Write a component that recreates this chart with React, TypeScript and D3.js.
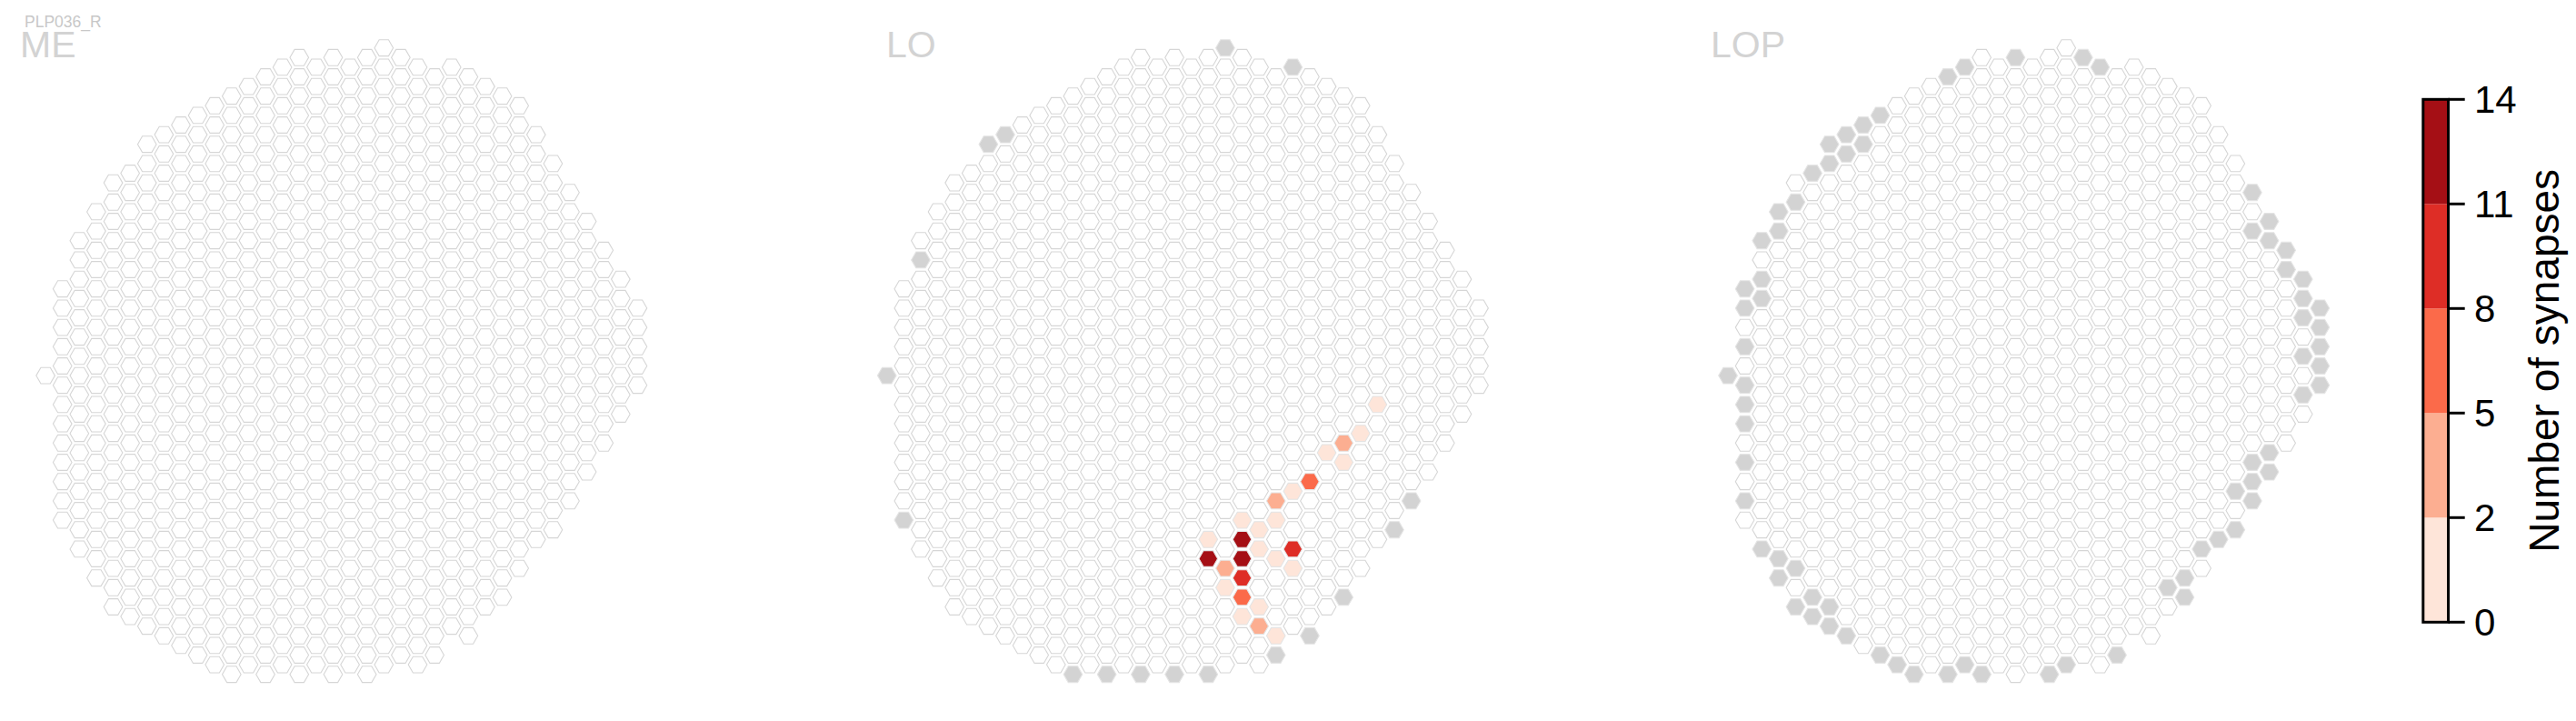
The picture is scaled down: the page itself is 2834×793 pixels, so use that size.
import * as d3 from "d3";
import React, { useEffect, useRef } from "react";

// hex grid in "doubled row" coordinates: for every column (0..35) the first and last row
const columnTop = [34, 25, 20, 17, 14, 13, 10, 9, 8, 7, 6, 5, 4, 3, 2, 1, 2, 1, 2, 1, 0, 1, 2, 3, 2, 3, 4, 5, 6, 9, 12, 15, 18, 21, 24, 27];
const columnBottom = [34, 49, 52, 55, 58, 59, 60, 61, 62, 63, 64, 65, 64, 65, 64, 65, 64, 65, 64, 65, 64, 63, 64, 63, 60, 61, 58, 57, 54, 51, 50, 47, 44, 41, 38, 35];

const neuronName = "PLP036_R";
const regions = ["ME", "LO", "LOP"];

// synapse counts per column: [column, row, synapses]
const meSynapses: [number, number, number][] = [];
const loSynapses: [number, number, number][] = [
  [29, 37, 1], [28, 40, 1], [27, 41, 3], [26, 42, 1], [27, 43, 1],
  [25, 45, 6], [24, 46, 1], [23, 47, 3], [21, 49, 1], [23, 49, 1],
  [22, 50, 1], [19, 51, 1], [21, 51, 13], [22, 52, 1], [24, 52, 9],
  [23, 53, 1], [19, 53, 12], [21, 53, 12], [20, 54, 4], [24, 54, 1],
  [21, 55, 10], [20, 56, 1], [21, 57, 7], [22, 58, 1], [21, 59, 1],
  [22, 60, 3], [23, 61, 1],
];
const lopSynapses: [number, number, number][] = [];

// columns drawn in grey: [column, row]
const meGrey: [number, number][] = [];
const loGrey: [number, number][] = [
  [20, 0], [24, 2], [7, 9], [6, 10], [2, 22], [0, 34], [1, 49], [31, 47], [30, 50],
  [27, 57], [25, 61], [23, 63], [11, 65], [13, 65], [15, 65], [17, 65], [19, 65],
];
const lopGrey: [number, number][] = [
  [17, 1], [21, 1], [22, 2], [14, 2], [13, 3], [9, 7], [8, 8], [7, 9], [6, 10], [8, 10],
  [7, 11], [6, 12], [5, 13], [4, 16], [3, 17], [3, 19], [2, 20], [2, 24], [1, 25], [2, 26],
  [1, 27], [1, 31], [0, 34], [1, 35], [1, 37], [1, 39], [1, 43], [1, 47], [2, 52], [3, 53],
  [4, 54], [3, 55], [5, 57], [4, 58], [6, 58], [5, 59], [6, 60], [7, 61], [9, 63], [10, 64],
  [11, 65], [13, 65], [14, 64], [15, 65], [19, 65], [20, 64], [23, 63],
  [31, 15], [32, 18], [31, 19], [32, 20], [33, 21], [33, 23], [34, 24], [34, 26], [35, 27],
  [34, 28], [35, 29], [35, 31], [34, 32], [35, 33], [35, 35], [34, 36], [32, 42], [31, 43],
  [32, 44], [31, 45], [30, 46], [31, 47], [30, 50], [29, 51], [28, 52], [27, 55], [26, 56], [27, 57],
];

const panelSynapses = [meSynapses, loSynapses, lopSynapses];
const panelGrey = [meGrey, loGrey, lopGrey];

// colour bins
const binEdges = [0, 2, 5, 8, 11, 14];
const binColors = ["#fee5d9", "#fcae91", "#fb6a4a", "#de2d26", "#a50f15"];

const WIDTH = 2834;
const HEIGHT = 793;
const FONT = "'Liberation Sans', Arial, Helvetica, sans-serif";

export default function App() {
  const svgRef = useRef<SVGSVGElement | null>(null);

  useEffect(() => {
    if (!svgRef.current) return;
    const svg = d3.select(svgRef.current);
    svg.selectAll("*").remove();

    const panelLeft = [50.1, 975.7, 1901.0];
    const labelX = [22, 975, 1882];
    const colCount = columnTop.length;

    const y = d3.scaleLinear().domain([0, 65]).range([52.7, 741.7]);

    // flat-topped hexagon
    const R = 10.3;
    const hexPath =
      d3.range(6).map((i) => {
        const a = (Math.PI / 3) * i;
        return `${i === 0 ? "M" : "L"}${(R * Math.cos(a)).toFixed(2)},${(R * Math.sin(a)).toFixed(2)}`;
      }).join("") + "Z";

    const color = d3.scaleThreshold<number, string>().domain(binEdges.slice(1, -1)).range(binColors);

    // all cells of the grid
    const cells: [number, number][] = [];
    for (let c = 0; c < colCount; c++) {
      for (let r = columnTop[c]; r <= columnBottom[c]; r += 2) cells.push([c, r]);
    }

    regions.forEach((name, p) => {
      const x = d3.scaleLinear().domain([0, colCount - 1]).range([panelLeft[p], panelLeft[p] + (colCount - 1) * 18.61]);
      const g = svg.append("g");

      const fillOf = new Map<string, string>();
      panelGrey[p].forEach(([c, r]) => fillOf.set(`${c},${r}`, "#d3d3d3"));
      panelSynapses[p].forEach(([c, r, v]) => fillOf.set(`${c},${r}`, color(v)));

      g.selectAll("path.hex")
        .data(cells)
        .enter()
        .append("path")
        .attr("class", "hex")
        .attr("d", hexPath)
        .attr("transform", (d) => `translate(${x(d[0])},${y(d[1])})`)
        .attr("fill", (d) => fillOf.get(`${d[0]},${d[1]}`) ?? "#ffffff")
        .attr("stroke", (d) => (fillOf.has(`${d[0]},${d[1]}`) ? "#e4e4e4" : "#d6d6d6"))
        .attr("stroke-width", 1.1);

      svg
        .append("text")
        .attr("x", labelX[p])
        .attr("y", 62.5)
        .attr("font-family", FONT)
        .attr("font-size", 41)
        .attr("fill", "#d3d3d3")
        .text(name);
    });

    svg
      .append("text")
      .attr("x", 27)
      .attr("y", 29.5)
      .attr("font-family", FONT)
      .attr("font-size", 17.5)
      .attr("fill", "#c8c8c8")
      .text(neuronName);

    // colour bar
    const cb = svg.append("g");
    const barX = 2665.8;
    const barW = 27.7;
    const cbY = d3.scaleLinear().domain([0, binColors.length]).range([684.3, 109.3]);

    cb.selectAll("rect.bin")
      .data(binColors)
      .enter()
      .append("rect")
      .attr("class", "bin")
      .attr("x", barX)
      .attr("y", (_, i) => cbY(i + 1))
      .attr("width", barW)
      .attr("height", (_, i) => cbY(i) - cbY(i + 1))
      .attr("fill", (d) => d);

    cb.append("rect")
      .attr("x", barX)
      .attr("y", cbY(binColors.length))
      .attr("width", barW)
      .attr("height", cbY(0) - cbY(binColors.length))
      .attr("fill", "none")
      .attr("stroke", "#000")
      .attr("stroke-width", 3);

    const ticks = cb.selectAll("g.tick").data(binEdges).enter().append("g").attr("class", "tick");
    ticks
      .append("line")
      .attr("x1", barX + barW)
      .attr("x2", 2711.7)
      .attr("y1", (_, i) => cbY(i))
      .attr("y2", (_, i) => cbY(i))
      .attr("stroke", "#000")
      .attr("stroke-width", 3);
    ticks
      .append("text")
      .attr("x", 2722)
      .attr("y", (_, i) => cbY(i) + 15)
      .attr("font-family", FONT)
      .attr("font-size", 42)
      .attr("fill", "#000")
      .text((d) => d);

    cb.append("text")
      .attr("transform", `translate(2815,${(cbY(0) + cbY(binColors.length)) / 2}) rotate(-90)`)
      .attr("text-anchor", "middle")
      .attr("font-family", FONT)
      .attr("font-size", 46)
      .attr("fill", "#000")
      .text("Number of synapses");
  }, []);

  return (
    <svg
      ref={svgRef}
      width={WIDTH}
      height={HEIGHT}
      style={{ position: "absolute", left: 0, top: 0, display: "block", background: "#fff" }}
    />
  );
}
